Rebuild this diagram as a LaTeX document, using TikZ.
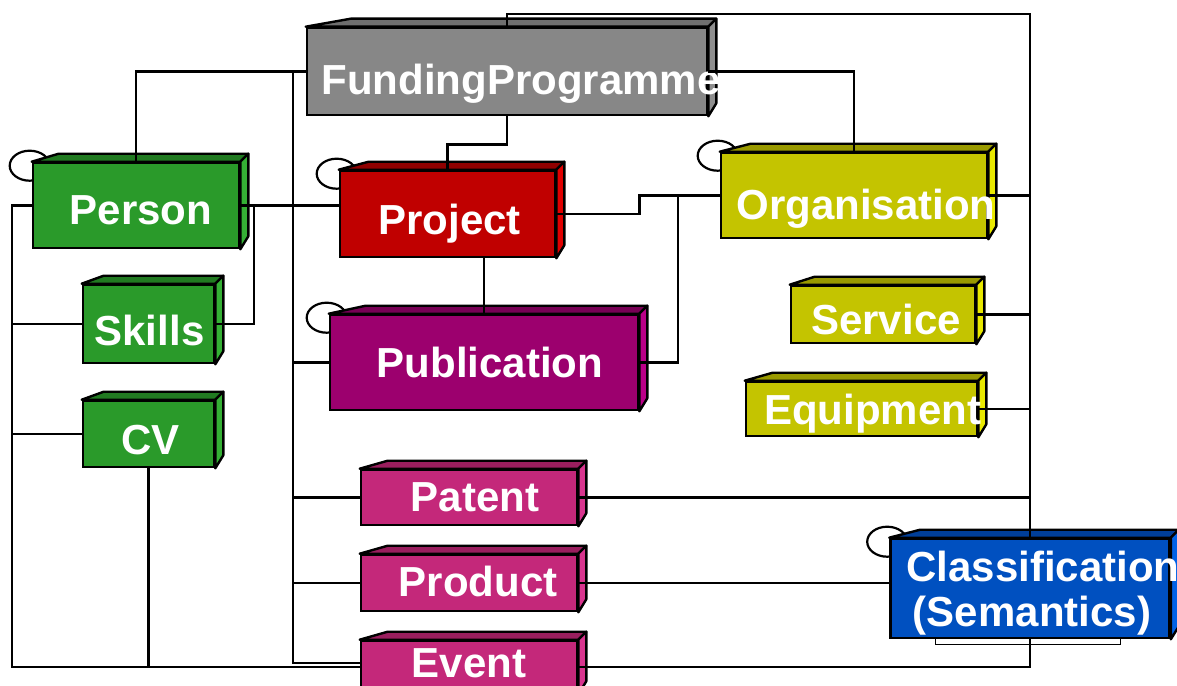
\documentclass[tikz,border=0pt]{standalone}
\usepackage{fontspec}
\newfontfamily\boxfont{Liberation Sans}
\usetikzlibrary{calc}
\pgfdeclarelayer{background}
\pgfsetlayers{background,main}

\definecolor{fundfront}{HTML}{878787}
\definecolor{fundtop}{HTML}{6F6F6F}
\definecolor{fundside}{HTML}{8E8E8E}
\definecolor{greenfront}{HTML}{2A9A2A}
\definecolor{greentop}{HTML}{217A21}
\definecolor{greenside}{HTML}{35B035}
\definecolor{redfront}{HTML}{C00000}
\definecolor{redtop}{HTML}{900000}
\definecolor{redside}{HTML}{E00000}
\definecolor{olivefront}{HTML}{C4C400}
\definecolor{olivetop}{HTML}{9A9A00}
\definecolor{oliveside}{HTML}{E8E800}
\definecolor{plumfront}{HTML}{9C006E}
\definecolor{plumtop}{HTML}{780055}
\definecolor{plumside}{HTML}{BA0088}
\definecolor{rosefront}{HTML}{C4287A}
\definecolor{rosetop}{HTML}{9A1E5E}
\definecolor{roseside}{HTML}{D8348E}
\definecolor{bluefront}{HTML}{0050C0}
\definecolor{bluetop}{HTML}{003E98}
\definecolor{blueside}{HTML}{0062E6}

% move a label inside its box without changing the box
\newcommand\nudge[3]{\kern#1pt\raisebox{-#2pt}[\height][\depth]{#3}\kern-#1pt}

\begin{document}
\begin{tikzpicture}[x=1pt,y=-1pt,
    box/.style={draw,line width=2.6pt,inner sep=0pt,text=white,
      font=\boxfont\bfseries\fontsize{42}{43}\selectfont},
    facet/.style={line width=2.4pt,line join=round},
    wire/.style={line width=2.4pt},
    selfloop/.style={line width=2.2pt}]
  \useasboundingbox (0,0) rectangle (1177,685);

  % classes
  \node[box,fill=fundfront,minimum width=400,minimum height=87] (fund) at (507,71.5) {\nudge{14}{12}{FundingProgramme}};
  \node[box,fill=greenfront,minimum width=206,minimum height=85] (person) at (136,205.5) {\nudge{5}{5}{Person}};
  \node[box,fill=greenfront,minimum width=131,minimum height=78] (skills) at (148.5,324) {\nudge{1}{6}{Skills}};
  \node[box,fill=greenfront,minimum width=131,minimum height=66] (cv) at (148.5,434) {\nudge{2}{6}{CV}};
  \node[box,fill=redfront,minimum width=215,minimum height=86] (project) at (447.5,214) {\nudge{2}{10}{Project}};
  \node[box,fill=plumfront,minimum width=308,minimum height=95] (publication) at (484,362.5) {\nudge{6}{0}{Publication}};
  \node[box,fill=olivefront,minimum width=266,minimum height=85] (org) at (854,195.5) {\nudge{12}{13}{Organisation}};
  \node[box,fill=olivefront,minimum width=184,minimum height=57] (service) at (883,314.5) {\nudge{3}{5}{Service}};
  \node[box,fill=olivefront,minimum width=231,minimum height=54] (equipment) at (861.5,409) {\nudge{11}{5}{Equipment}};
  \node[box,fill=rosefront,minimum width=216,minimum height=55] (patent) at (469,497.5) {\nudge{6}{0}{Patent}};
  \node[box,fill=rosefront,minimum width=216,minimum height=56] (product) at (469,583) {\nudge{9}{-2}{Product}};
  \node[box,fill=rosefront,minimum width=216,minimum height=52] (event) at (469,667) {\nudge{0}{-4}{Event}};
  \node[box,fill=bluefront,minimum width=279,minimum height=99,align=center] (class) at (1030,588.5)
    {\nudge{13}{4}{Classification}\\\nudge{2}{6}{(Semantics)}};

  % depth of the boxes
  \begin{pgfonlayer}{background}
    \foreach \n in {person,project,org,publication,class}
      \draw[selfloop] ($(\n.north west)+(-2,4)$) ellipse [x radius=20,y radius=15];
    \draw[line width=1.2pt,fill=white] ($(class.south west)+(46,-4)$) rectangle ($(class.south east)+(-50,5)$);
    \foreach \n/\t/\s/\o in {fund/fundtop/fundside/45,person/greentop/greenside/27,
        skills/greentop/greenside/22,cv/greentop/greenside/22,project/redtop/redside/30,
        publication/plumtop/plumside/37,org/olivetop/oliveside/31,service/olivetop/oliveside/25,
        equipment/olivetop/oliveside/28,patent/rosetop/roseside/28,product/rosetop/roseside/28,
        event/rosetop/roseside/28,class/bluetop/blueside/31}{
      \filldraw[facet,fill=\t] (\n.north west) -- ++(\o,-8) -- ($(\n.north east)+(8,-8)$) -- (\n.north east) -- cycle;
      \filldraw[facet,fill=\s] (\n.north east) -- ++(8,-8) -- ($(\n.south east)+(8,-13)$) -- (\n.south east) -- cycle;
    }
  \end{pgfonlayer}

  \coordinate (midbus) at (293,71.5);
  \coordinate (lbus) at (12,667);
  \coordinate (rbus) at (1030,14);
  \coordinate (skilljoin) at (254,205.5);

  % left side
  \draw[wire] (person.north) |- (fund.west);
  \draw[wire] (midbus) |- ([yshift=4pt]event.west);
  \draw[wire] (midbus |- publication.west) -- (publication.west);
  \draw[wire] (midbus |- patent.west) -- (patent.west);
  \draw[wire] (midbus |- product.west) -- (product.west);
  \draw[wire] (person.east) -- (person.east -| project.west);
  \draw[wire] (skills.east) -| (skilljoin);
  \draw[wire] (person.west) -| (lbus) -- (lbus -| event.west);
  \draw[wire] (skills.west) -- (skills.west -| lbus);
  \draw[wire] (cv.west) -- (cv.west -| lbus);
  \draw[wire] (cv.south) -- (cv.south |- lbus);

  % middle
  \draw[wire] (fund.south) -- ++(0,28) -| (project.north);
  \draw[wire] (fund.north) |- (rbus) -- (class.north);
  \draw[wire] (fund.east) -| (org.north);
  \draw[wire] (project.east) -- ++(83,0) |- (org.west);
  \draw[wire] (publication.east) -| ($(org.west)+(-42,0)$);
  \draw[wire] (project.south -| publication.north) -- (publication.north);

  % right side
  \draw[wire] (org.east) -- (org.east -| rbus);
  \draw[wire] (service.east) -- (service.east -| rbus);
  \draw[wire] (equipment.east) -- (equipment.east -| rbus);
  \draw[wire] (patent.east) -- (patent.east -| rbus);
  \draw[wire] (product.east) -- (product.east -| class.west);
  \draw[wire] (event.east) -| (class.south);
\end{tikzpicture}
\end{document}
